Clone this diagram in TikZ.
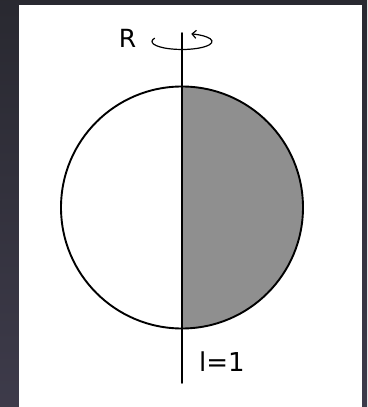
\documentclass[tikz,border=0pt]{standalone}
\usepackage{fontspec}
\setmainfont{DejaVu Sans}
\usetikzlibrary{arrows.meta,calc}
\usepackage{tkz-euclide}
\definecolor{HalfClr}{rgb}{0.56,0.56,0.56}
\definecolor{FrameTop}{rgb}{0.16,0.16,0.19}
\definecolor{FrameBot}{rgb}{0.24,0.23,0.29}

\begin{document}
\begin{tikzpicture}[x=1pt,y=1pt]
\tkzSetUpLine[line width=1.9pt,color=black]

% frame and sheet
\shade[top color=FrameTop,bottom color=FrameBot] (0,0) rectangle (367,407);
\fill[white] (19,0) rectangle (362,402);
\useasboundingbox (0,0) rectangle (367,407);

\tkzDefPoints{182/199.5/O,182/320.5/T,182/78.5/B,182/374/Top,182/24/Bot,182/365.5/Rot}

% shaded half of the sphere
\fill[HalfClr] (T) arc[start angle=90,end angle=-90,radius=121] -- cycle;

\tkzDrawCircle[line width=1.9pt,color=black](O,T)
\tkzDrawSegment(Top,Bot)

% rotation sense
\draw[line width=1.2pt,-{Straight Barb[length=4pt,width=8pt]}] ($(Rot)+(155:30 and 8)$)
  arc[start angle=155,end angle=432,x radius=30,y radius=8];

\node[font=\fontsize{25}{28}\selectfont] (lblR) at (127.5,369) {R};
\node[font=\fontsize{26}{29}\selectfont] (lblL) at (222,45) {l=1};

\end{tikzpicture}
\end{document}
